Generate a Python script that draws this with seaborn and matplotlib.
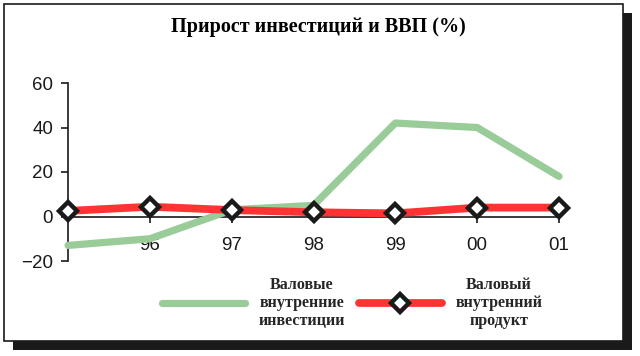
import matplotlib
matplotlib.use("Agg")
import matplotlib.pyplot as plt
from matplotlib.patches import Rectangle
import seaborn as sns
import pandas as pd

years = ["95", "96", "97", "98", "99", "00", "01"]
tick_labels = ["", "96", "97", "98", "99", "00", "01"]
investments = [-13, -10, 3, 5, 42, 40, 18]
gdp = [2.5, 4.4, 2.9, 1.9, 1.4, 4.0, 4.0]
title = "Прирост инвестиций и ВВП (%)"
label_inv = "Валовые\nвнутренние\nинвестиции"
label_gdp = "Валовый\nвнутренний\nпродукт"

df = pd.DataFrame({"pos": range(len(years)), "year": years,
                   "inv": investments, "gdp": gdp})

sns.set_style("white")
plt.rcParams["font.family"] = ["Liberation Sans", "DejaVu Sans"]

fig = plt.figure(figsize=(6.4, 3.56), dpi=100)
W, H = 640, 356

# shadow and frame
fig.patches.append(Rectangle((13 / W, 1 - 350 / H), 619 / W, 337 / H,
                             transform=fig.transFigure, facecolor="#1a1a1a",
                             edgecolor="none", zorder=-3))
fig.patches.append(Rectangle((4 / W, 1 - 341 / H), 619 / W, 337 / H,
                             transform=fig.transFigure, facecolor="white",
                             edgecolor="#1a1a1a", lw=1.2, zorder=-2))

ax = fig.add_axes([68 / W, 1 - 261 / H, (559 - 68) / W, (261 - 83) / H])
ax.patch.set_visible(False)

sns.lineplot(data=df, x="pos", y="inv", ax=ax, color="#99CC99", lw=5.2,
             label=label_inv, clip_on=False, zorder=3,
             solid_capstyle="round")
sns.lineplot(data=df, x="pos", y="gdp", ax=ax, color="#FF3333", lw=5.6,
             marker="D", markersize=9.5, markerfacecolor="white",
             markeredgecolor="#1a1a1a", markeredgewidth=3.2,
             label=label_gdp, clip_on=False, zorder=4)

ax.set_xlim(0, 6)
ax.set_ylim(-20, 60)
ax.set_yticks([-20, 0, 20, 40, 60])
ax.set_xticks(df["pos"])
ax.set_xticklabels(tick_labels)
ax.set_xlabel("")
ax.set_ylabel("")

for s in ["top", "right"]:
    ax.spines[s].set_visible(False)
ax.spines["bottom"].set_position(("data", 0))
ax.spines["left"].set_color("#1a1a1a")
ax.spines["bottom"].set_color("#1a1a1a")
ax.spines["left"].set_linewidth(1.2)
ax.spines["bottom"].set_linewidth(1.2)
ax.spines["bottom"].set_zorder(2)

ax.tick_params(axis="y", direction="out", length=4.7, width=1.2, pad=6,
               labelsize=13.5, colors="#1a1a1a", left=True)
ax.tick_params(axis="x", direction="out", length=4.5, width=1.2, pad=10,
               labelsize=13.5, colors="#1a1a1a", bottom=True)

ax.legend_.remove()
handles, labels = ax.get_legend_handles_labels()
leg = fig.legend(handles, labels, loc="center", bbox_to_anchor=(352 / W, 1 - 303 / H),
                 ncol=2, frameon=False, handlelength=5.2, handletextpad=0.85,
                 columnspacing=0.85,
                 prop={"family": "Liberation Serif", "weight": "bold", "size": 11.5})
for t in leg.get_texts():
    t.set_multialignment("center")

fig.text(318 / W, 1 - 27 / H, title, ha="center", va="center",
         fontsize=14.5, fontweight="bold", family="Liberation Serif",
         color="black")

fig.savefig("out.png", dpi=100)
